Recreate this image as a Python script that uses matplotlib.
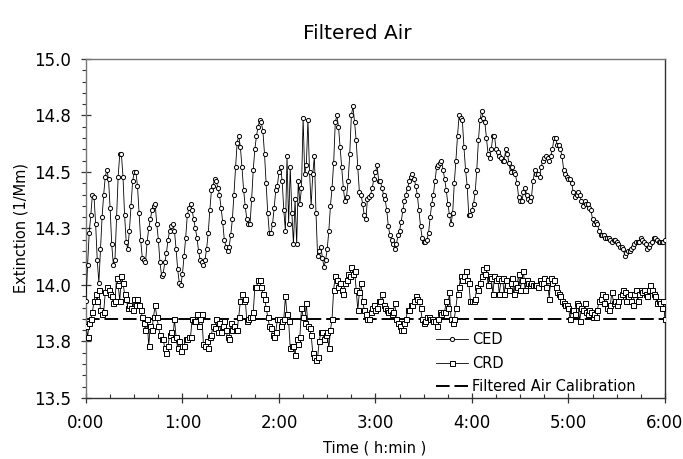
import matplotlib
matplotlib.use("Agg")
import matplotlib.pyplot as plt
from matplotlib.ticker import FixedLocator, FixedFormatter, MultipleLocator

# one sample per minute, 0:00 .. 6:00
time_min = list(range(361))

ced = [
    13.93, 14.09, 14.23, 14.31, 14.40, 14.39, 14.27, 14.11, 14.01, 14.16,  # 0
    14.30, 14.40, 14.48, 14.51, 14.47, 14.34, 14.18, 14.09, 14.11, 14.30,  # 10
    14.48, 14.58, 14.58, 14.48, 14.31, 14.19, 14.16, 14.24, 14.35, 14.46,  # 20
    14.50, 14.50, 14.44, 14.32, 14.20, 14.12, 14.11, 14.10, 14.19, 14.25,  # 30
    14.29, 14.33, 14.35, 14.36, 14.27, 14.20, 14.10, 14.04, 14.05, 14.10,  # 40
    14.14, 14.20, 14.24, 14.26, 14.27, 14.24, 14.16, 14.07, 14.01, 14.00,  # 50
    14.05, 14.13, 14.21, 14.31, 14.34, 14.36, 14.33, 14.29, 14.25, 14.21,  # 60
    14.15, 14.11, 14.10, 14.09, 14.11, 14.16, 14.23, 14.33, 14.42, 14.44,  # 70
    14.47, 14.46, 14.43, 14.40, 14.34, 14.28, 14.20, 14.17, 14.15, 14.17,  # 80
    14.22, 14.29, 14.40, 14.52, 14.63, 14.66, 14.61, 14.52, 14.42, 14.35,  # 90
    14.29, 14.27, 14.27, 14.38, 14.51, 14.60, 14.66, 14.70, 14.73, 14.72,  # 100
    14.68, 14.58, 14.45, 14.32, 14.23, 14.23, 14.27, 14.34, 14.42, 14.44,  # 110
    14.50, 14.52, 14.46, 14.33, 14.24, 14.57, 14.27, 14.52, 14.32, 14.18,  # 120
    14.38, 14.18, 14.46, 14.36, 14.43, 14.74, 14.49, 14.53, 14.73, 14.50,  # 130
    14.35, 14.49, 14.57, 14.32, 14.13, 14.15, 14.17, 14.12, 14.08, 14.11,  # 140
    14.16, 14.24, 14.35, 14.43, 14.54, 14.72, 14.75, 14.70, 14.61, 14.52,  # 150
    14.43, 14.37, 14.39, 14.46, 14.58, 14.75, 14.79, 14.72, 14.64, 14.52,  # 160
    14.41, 14.40, 14.36, 14.31, 14.29, 14.38, 14.39, 14.40, 14.43, 14.47,  # 170
    14.50, 14.53, 14.46, 14.46, 14.43, 14.40, 14.38, 14.33, 14.26, 14.22,  # 180
    14.20, 14.18, 14.16, 14.18, 14.22, 14.24, 14.28, 14.33, 14.37, 14.40,  # 190
    14.43, 14.46, 14.48, 14.49, 14.47, 14.44, 14.40, 14.33, 14.26, 14.21,  # 200
    14.19, 14.19, 14.20, 14.23, 14.30, 14.36, 14.40, 14.46, 14.52, 14.53,  # 210
    14.54, 14.55, 14.51, 14.47, 14.42, 14.36, 14.31, 14.27, 14.32, 14.45,  # 220
    14.55, 14.66, 14.75, 14.74, 14.73, 14.61, 14.51, 14.44, 14.31, 14.31,  # 230
    14.33, 14.36, 14.41, 14.51, 14.64, 14.73, 14.77, 14.74, 14.72, 14.65,  # 240
    14.58, 14.56, 14.60, 14.66, 14.66, 14.60, 14.59, 14.57, 14.56, 14.55,  # 250
    14.55, 14.60, 14.58, 14.54, 14.50, 14.52, 14.50, 14.49, 14.45, 14.39,  # 260
    14.37, 14.37, 14.41, 14.43, 14.40, 14.38, 14.37, 14.39, 14.46, 14.51,  # 270
    14.49, 14.49, 14.48, 14.52, 14.55, 14.56, 14.57, 14.56, 14.55, 14.57,  # 280
    14.60, 14.65, 14.65, 14.62, 14.62, 14.60, 14.57, 14.51, 14.49, 14.48,  # 290
    14.47, 14.47, 14.45, 14.41, 14.39, 14.40, 14.41, 14.40, 14.37, 14.35,  # 300
    14.37, 14.36, 14.36, 14.34, 14.33, 14.29, 14.27, 14.28, 14.27, 14.24,  # 310
    14.22, 14.22, 14.22, 14.21, 14.21, 14.21, 14.20, 14.19, 14.20, 14.20,  # 320
    14.19, 14.18, 14.17, 14.17, 14.16, 14.13, 14.14, 14.15, 14.15, 14.16,  # 330
    14.17, 14.18, 14.19, 14.19, 14.19, 14.21, 14.20, 14.19, 14.18, 14.16,  # 340
    14.17, 14.18, 14.19, 14.21, 14.21, 14.20, 14.19, 14.19, 14.19, 14.19,  # 350
    14.20,
]

crd = [
    13.82, 13.77, 13.83, 13.85, 13.88, 13.93, 13.96, 13.93, 13.98, 13.89,  # 0
    13.87, 13.88, 13.97, 13.99, 13.98, 13.96, 13.95, 13.92, 13.93, 14.03,  # 10
    14.00, 13.93, 14.04, 14.01, 13.96, 13.94, 13.90, 13.91, 13.90, 13.89,  # 20
    13.94, 13.91, 13.94, 13.91, 13.89, 13.86, 13.83, 13.80, 13.85, 13.73,  # 30
    13.82, 13.80, 13.86, 13.91, 13.86, 13.82, 13.78, 13.76, 13.76, 13.72,  # 40
    13.70, 13.73, 13.78, 13.79, 13.76, 13.85, 13.77, 13.72, 13.75, 13.71,  # 50
    13.73, 13.73, 13.76, 13.76, 13.77, 13.77, 13.85, 13.84, 13.84, 13.87,  # 60
    13.82, 13.85, 13.87, 13.74, 13.73, 13.75, 13.72, 13.77, 13.78, 13.82,  # 70
    13.81, 13.85, 13.79, 13.83, 13.79, 13.82, 13.84, 13.80, 13.77, 13.76,  # 80
    13.83, 13.80, 13.82, 13.80, 13.80, 13.86, 13.93, 13.96, 13.93, 13.94,  # 90
    13.84, 13.85, 13.86, 13.86, 13.88, 13.99, 13.99, 14.02, 14.02, 13.99,  # 100
    13.96, 13.94, 13.90, 13.86, 13.82, 13.81, 13.78, 13.77, 13.79, 13.85,  # 110
    13.85, 13.82, 13.84, 13.85, 13.95, 13.87, 13.84, 13.72, 13.73, 13.73,  # 120
    13.69, 13.76, 13.74, 13.77, 13.90, 13.86, 13.83, 13.92, 13.82, 13.81,  # 130
    13.78, 13.70, 13.68, 13.67, 13.68, 13.75, 13.79, 13.79, 13.76, 13.78,  # 140
    13.79, 13.72, 13.80, 13.85, 13.98, 14.04, 14.02, 13.99, 14.01, 13.98,  # 150
    13.96, 14.01, 14.02, 14.05, 14.04, 14.08, 14.05, 14.06, 13.98, 13.89,  # 160
    13.97, 14.01, 13.93, 13.89, 13.87, 13.85, 13.85, 13.88, 13.90, 13.91,  # 170
    13.89, 13.90, 13.93, 13.93, 13.96, 13.91, 13.90, 13.89, 13.88, 13.89,  # 180
    13.87, 13.88, 13.92, 13.85, 13.83, 13.82, 13.80, 13.80, 13.83, 13.85,  # 190
    13.89, 13.89, 13.91, 13.91, 13.93, 13.95, 13.94, 13.93, 13.90, 13.85,  # 200
    13.83, 13.84, 13.86, 13.86, 13.85, 13.85, 13.84, 13.84, 13.82, 13.85,  # 210
    13.88, 13.87, 13.88, 13.88, 13.93, 13.90, 13.97, 13.85, 13.83, 13.85,  # 220
    13.90, 13.96, 13.99, 14.04, 14.02, 14.04, 14.06, 14.02, 14.01, 13.93,  # 230
    13.93, 13.93, 13.94, 13.99, 13.98, 14.01, 14.04, 14.07, 14.05, 14.08,  # 240
    14.00, 14.04, 14.03, 13.96, 14.04, 14.02, 14.03, 13.96, 14.02, 14.03,  # 250
    13.96, 14.02, 14.00, 13.98, 14.01, 14.03, 13.96, 14.01, 13.99, 14.05,  # 260
    13.98, 14.02, 14.06, 13.98, 14.02, 14.01, 14.00, 14.01, 14.00, 14.00,  # 270
    14.00, 13.99, 14.02, 14.01, 14.01, 14.03, 13.99, 14.02, 13.94, 14.03,  # 280
    14.01, 14.02, 13.99, 13.97, 13.96, 13.95, 13.93, 13.92, 13.91, 13.91,  # 290
    13.90, 13.85, 13.89, 13.89, 13.87, 13.92, 13.91, 13.84, 13.90, 13.89,  # 300
    13.92, 13.88, 13.87, 13.89, 13.88, 13.86, 13.87, 13.86, 13.89, 13.93,  # 310
    13.94, 13.96, 13.92, 13.95, 13.90, 13.89, 13.91, 13.97, 13.92, 13.93,  # 320
    13.91, 13.93, 13.95, 13.96, 13.98, 13.97, 13.93, 13.95, 13.96, 13.93,  # 330
    13.91, 13.96, 13.98, 13.93, 13.96, 13.98, 13.97, 13.98, 13.96, 13.95,  # 340
    13.98, 14.00, 13.98, 13.96, 13.95, 13.92, 13.93, 13.92, 13.90, 13.93,  # 350
    13.85,
]

calibration = 13.85

x_ticks = [0, 60, 120, 180, 240, 300, 360]
x_labels = ["0:00", "1:00", "2:00", "3:00", "4:00", "5:00", "6:00"]
y_ticks = [13.5, 13.75, 14.0, 14.25, 14.5, 14.75, 15.0]
y_labels = ["13.5", "13.8", "14.0", "14.3", "14.5", "14.8", "15.0"]


def main() -> None:
    plt.rcParams["font.family"] = ["DejaVu Sans"]

    fig = plt.figure(figsize=(6.83, 4.59), dpi=100)
    ax = fig.add_axes([0.1259, 0.1329, 0.8477, 0.7386])

    ax.plot(time_min, ced, color="black", lw=0.6, marker="o", ms=3.0,
            mfc="white", mec="black", mew=0.7, label="CED", zorder=3)
    ax.plot(time_min, crd, color="black", lw=0.6, marker="s", ms=3.6,
            mfc="white", mec="black", mew=0.7, label="CRD", zorder=3)
    ax.axhline(calibration, color="black", lw=1.4, dashes=(7, 2.5),
               label="Filtered Air Calibration", zorder=2)

    ax.set_xlim(0, 360)
    ax.set_ylim(13.5, 15.0)

    ax.xaxis.set_major_locator(FixedLocator(x_ticks))
    ax.xaxis.set_major_formatter(FixedFormatter(x_labels))
    ax.xaxis.set_minor_locator(MultipleLocator(15))
    ax.yaxis.set_major_locator(FixedLocator(y_ticks))
    ax.yaxis.set_major_formatter(FixedFormatter(y_labels))
    ax.yaxis.set_minor_locator(MultipleLocator(0.05))

    ax.tick_params(axis="both", which="major", direction="inout", length=7,
                   width=0.9, labelsize=12, colors="#333333",
                   labelcolor="black")
    ax.tick_params(axis="x", which="major", pad=8)
    ax.tick_params(axis="y", which="major", pad=7)
    ax.tick_params(axis="x", which="minor", direction="in", length=3,
                   width=0.8, colors="#333333")
    ax.tick_params(axis="y", which="minor", direction="out", length=3,
                   width=0.8, colors="#333333")

    for side in ["top", "left"]:
        ax.spines[side].set_color("#777777")
    for side in ["bottom", "right"]:
        ax.spines[side].set_color("#333333")
    for sp in ax.spines.values():
        sp.set_linewidth(1.0)

    ax.set_xlabel("Time ( h:min )", fontsize=10.5)
    ax.xaxis.set_label_coords(0.499, -0.125)
    ax.set_ylabel("Extinction (1/Mm)", fontsize=10.5)
    ax.yaxis.set_label_coords(-0.10, 0.50)

    fig.text(0.523, 0.928, "Filtered Air", fontsize=14.5, ha="center",
             va="center")

    ax.legend(loc="upper left", bbox_to_anchor=(0.604, 0.195),
              frameon=False, fontsize=10.5, handlelength=2.2,
              handletextpad=0.3, labelspacing=0.6, borderpad=0,
              borderaxespad=0)

    fig.savefig("out.png", dpi=100)
    plt.close(fig)


if __name__ == "__main__":
    main()
